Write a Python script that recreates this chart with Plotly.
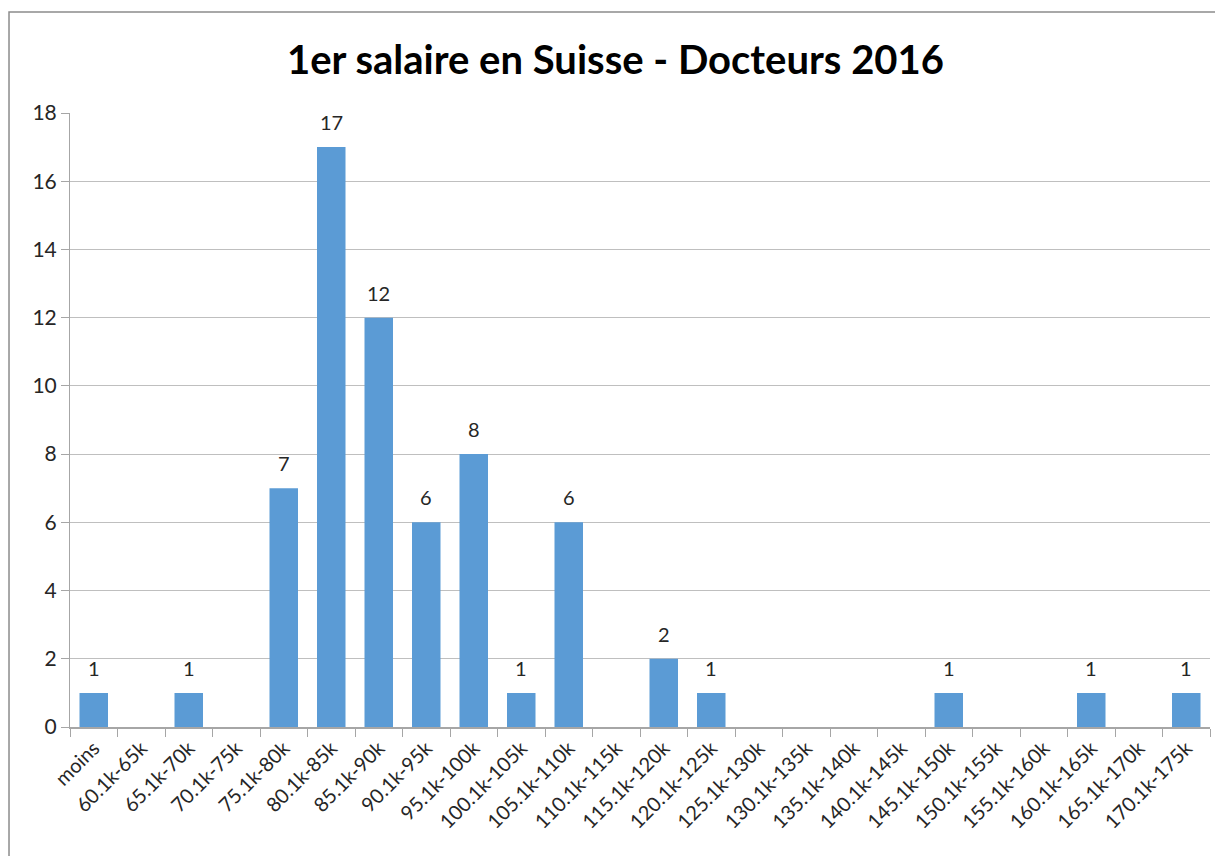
import plotly.graph_objects as go

categories = ["moins", "60.1k-65k", "65.1k-70k", "70.1k-75k", "75.1k-80k", "80.1k-85k",
              "85.1k-90k", "90.1k-95k", "95.1k-100k", "100.1k-105k", "105.1k-110k",
              "110.1k-115k", "115.1k-120k", "120.1k-125k", "125.1k-130k", "130.1k-135k",
              "135.1k-140k", "140.1k-145k", "145.1k-150k", "150.1k-155k", "155.1k-160k",
              "160.1k-165k", "165.1k-170k", "170.1k-175k"]
values = [1, 0, 1, 0, 7, 17, 12, 6, 8, 1, 6, 0, 2, 1, 0, 0, 0, 0, 1, 0, 0, 1, 0, 1]
y_ticks = [0, 2, 4, 6, 8, 10, 12, 14, 16, 18]
title_text = "1er salaire en Suisse - Docteurs 2016"

FONT = "Lato, 'Open Sans', sans-serif"
TXT = "#262626"

fig = go.Figure(go.Bar(
    x=categories, y=values,
    marker=dict(color="#5B9BD5", line=dict(width=0)),
))

annotations = [
    dict(x=c, y=v, xref="x", yref="y", text=str(v), showarrow=False,
         yanchor="middle", yshift=25, font=dict(family=FONT, size=20, color=TXT))
    for c, v in zip(categories, values) if v
]

# Page has an 8px body margin, so the figure is shrunk by 8px and offsets adjusted.
fig.update_layout(
    width=1215, height=848,
    margin=dict(l=62, r=13, t=105, b=129),
    paper_bgcolor="white", plot_bgcolor="white",
    bargap=0.4,
    showlegend=False,
    title=dict(text="<b>" + title_text + "</b>", x=0.5, xanchor="center",
               y=1 - 52 / 848, yanchor="middle",
               font=dict(family=FONT, size=40, color="#000000")),
    font=dict(family=FONT, size=20, color=TXT),
    xaxis=dict(tickangle=-45, showgrid=False, showline=True, linecolor="#A6A6A6",
               linewidth=1.5, ticks="outside", tickson="boundaries", ticklen=8,
               tickcolor="#A6A6A6", tickfont=dict(family=FONT, size=20, color=TXT),
               automargin=False),
    yaxis=dict(range=[0, 18], tickvals=y_ticks, showgrid=True, gridcolor="#BFBFBF",
               gridwidth=1, showline=True, linecolor="#A6A6A6", linewidth=1,
               ticks="outside", ticklen=8, tickcolor="#A6A6A6",
               tickfont=dict(family=FONT, size=21, color=TXT), zeroline=False,
               automargin=False),
    annotations=annotations,
    shapes=[dict(type="rect", xref="paper", yref="paper",
                 x0=-0.0535, x1=1.03, y0=-0.25, y1=1.1645,
                 line=dict(color="#8C8C8C", width=1.5), fillcolor="rgba(0,0,0,0)",
                 layer="below")],
)

fig.write_html("out.html")
